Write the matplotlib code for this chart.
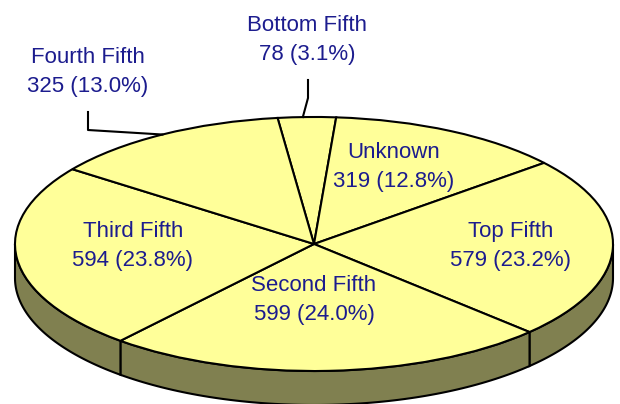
import numpy as np
import matplotlib.pyplot as plt
from matplotlib.patches import Polygon

labels = ["Bottom Fifth", "Unknown", "Top Fifth", "Second Fifth", "Third Fifth", "Fourth Fifth"]
counts = [78, 319, 579, 599, 594, 325]
pcts = [3.1, 12.8, 23.2, 24.0, 23.8, 13.0]

top_color = "#ffff99"
side_color = "#808050"
text_color = "#1c1c8e"

W, H = 620, 404
cx, cy = 314, 244      # pie centre in pixels (y from top)
rx, ry = 299, 127      # ellipse radii in pixels
depth = 34 / ry        # wall height in data units
start = 97.0


def px(x, y):
    # pixel (from top-left) -> data coords
    return (x - cx) / rx, (cy - y) / ry


fig = plt.figure(figsize=(W / 100, H / 100), dpi=100)
ax = fig.add_axes((0, 0, 1, 1))
ax.axis("off")

# wedge angles (clockwise from start)
total = sum(counts)
bounds = [start]
for c in counts:
    bounds.append(bounds[-1] - c / total * 360)

# side wall, only the front half (angles between -180 and 0)
for i in range(len(counts)):
    a1, a2 = bounds[i + 1], bounds[i]
    for shift in (0, -360):
        lo, hi = max(a1 + shift, -180), min(a2 + shift, 0)
        if lo >= hi:
            continue
        t = np.radians(np.linspace(lo, hi, 80))
        xs, ys = np.cos(t), np.sin(t)
        pts = np.concatenate([np.column_stack([xs, ys]),
                              np.column_stack([xs[::-1], ys[::-1] - depth])])
        ax.add_patch(Polygon(pts, closed=True, facecolor=side_color,
                             edgecolor="black", linewidth=1.5, zorder=1))

ax.pie(counts, startangle=start, counterclock=False, colors=[top_color] * len(counts),
       wedgeprops=dict(edgecolor="black", linewidth=1.5, zorder=2), radius=1)
for w in ax.patches[-len(counts):]:
    w.set_zorder(2)
ax.set_aspect("auto")
ax.set_xlim(-cx / rx, (W - cx) / rx)
ax.set_ylim(-(H - cy) / ry, cy / ry)

# label centres in pixels
label_pos = [(307, 40), (394, 167), (511, 246), (314, 300), (133, 246), (88, 72)]
fam = ["Liberation Sans Narrow", "Liberation Sans", "DejaVu Sans"]
for lab, c, p, pos in zip(labels, counts, pcts, label_pos):
    x, y = px(*pos)
    ax.text(x, y, f"{lab}\n{c} ({p:.1f}%)", ha="center", va="center",
            color=text_color, fontsize=16, family=fam, linespacing=1.5, zorder=5)

# leader lines for the two outside labels
mid_bottom = np.radians((bounds[0] + bounds[1]) / 2)
mid_fourth = np.radians((bounds[5] + bounds[6]) / 2)
lx = [px(308, 80)[0], px(308, 98)[0], np.cos(mid_bottom) - 4 / rx]
ly = [px(308, 80)[1], px(308, 98)[1], np.sin(mid_bottom)]
ax.plot(lx, ly, color="black", lw=1.5, zorder=3)
lx = [px(88, 112)[0], px(88, 130)[0], np.cos(mid_fourth)]
ly = [px(88, 112)[1], px(88, 130)[1], np.sin(mid_fourth)]
ax.plot(lx, ly, color="black", lw=1.5, zorder=3)

fig.savefig("out.png", dpi=100, facecolor="white")
